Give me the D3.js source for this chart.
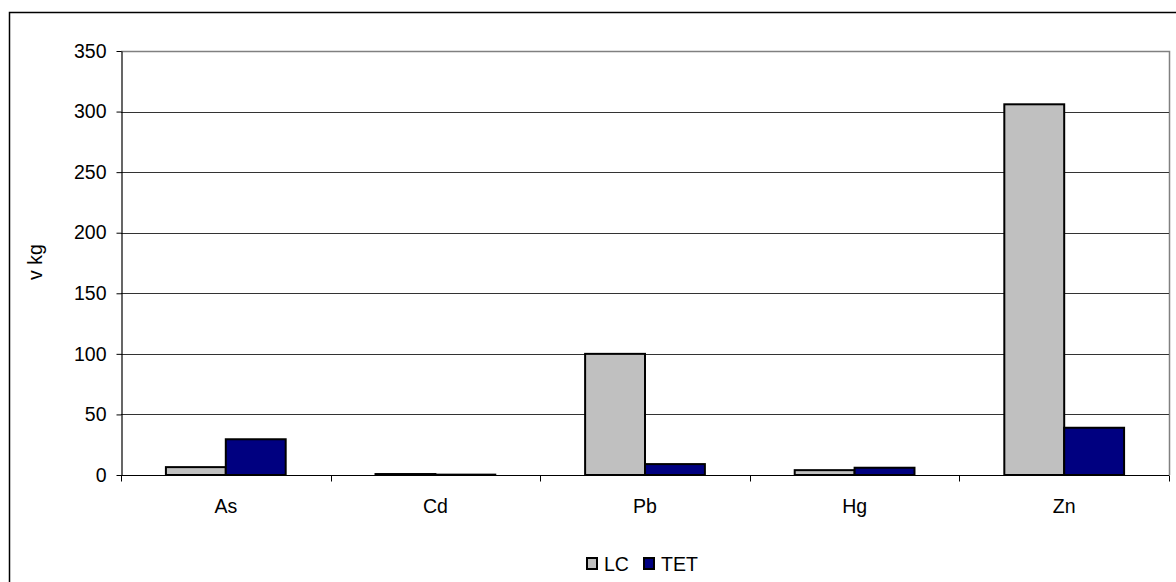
<!DOCTYPE html>
<html>
<head>
<meta charset="utf-8">
<script src="https://cdn.jsdelivr.net/npm/d3@7"></script>
<style>
  html, body { margin: 0; padding: 0; background: #fff; }
  svg { display: block; font-family: "Liberation Sans", Arial, sans-serif; }
</style>
</head>
<body>
<svg id="chart" width="1176" height="582"></svg>
<script>
// Heavy metal quantities, kg
const categories = ["As", "Cd", "Pb", "Hg", "Zn"];
const seriesNames = ["LC", "TET"];
const lcValues = [6.5, 0.8, 100, 4, 306];
const tetValues = [29.5, 0.3, 9, 6, 39];
const yTicks = [0, 50, 100, 150, 200, 250, 300, 350];
const yTitle = "v kg";

const colors = { LC: "#c0c0c0", TET: "#000080" };
const fontSize = 19.5;

const svg = d3.select("#chart");
const plot = { left: 121, top: 51, right: 1169, bottom: 475 };

// Outer chart frame
svg.append("rect")
  .attr("x", 9.5).attr("y", 12.5)
  .attr("width", 1200).attr("height", 600)
  .attr("fill", "#fff").attr("stroke", "#000").attr("stroke-width", 1.5);

const x = d3.scaleBand().domain(categories).range([plot.left, plot.right]).padding(0);
const x1 = d3.scaleBand().domain(seriesNames)
  .range([0, x.bandwidth()]).paddingOuter(0.75).paddingInner(0);
const y = d3.scaleLinear().domain([0, 350]).range([plot.bottom, plot.top]);

// Plot area border (top and right)
svg.append("path")
  .attr("d", `M${plot.left},${plot.top + 0.5}H${plot.right + 0.5}V${plot.bottom}`)
  .attr("fill", "none").attr("stroke", "#808080").attr("stroke-width", 1.5);

// Horizontal gridlines
svg.append("g")
  .selectAll("line")
  .data(yTicks.filter(t => t > 0 && t < 350))
  .join("line")
  .attr("x1", plot.left).attr("x2", plot.right)
  .attr("y1", d => Math.round(y(d)) + 0.5).attr("y2", d => Math.round(y(d)) + 0.5)
  .attr("stroke", "#333").attr("stroke-width", 1);

// Bars
const rows = categories.map((c, i) => ({ cat: c, LC: lcValues[i], TET: tetValues[i] }));
const groups = svg.append("g")
  .selectAll("g")
  .data(rows)
  .join("g")
  .attr("transform", d => `translate(${x(d.cat)},0)`);

groups.selectAll("rect")
  .data(d => seriesNames.map(s => ({ s, v: d[s] })))
  .join("rect")
  .attr("x", d => x1(d.s))
  .attr("y", d => y(d.v))
  .attr("width", x1.bandwidth())
  .attr("height", d => y(0) - y(d.v))
  .attr("fill", d => colors[d.s])
  .attr("stroke", "#000").attr("stroke-width", 2);

// Y axis
const yAxis = d3.axisLeft(y).tickValues(yTicks).tickSize(5).tickPadding(10).tickSizeOuter(0);
const gy = svg.append("g").attr("transform", `translate(${plot.left + 0.5},0)`).call(yAxis);
gy.select(".domain").attr("stroke", "#000").attr("stroke-width", 1.2);
gy.selectAll(".tick line").attr("stroke", "#000");
gy.selectAll(".tick text")
  .attr("font-size", fontSize).attr("fill", "#000")
  .attr("font-family", "'Liberation Sans', Arial, sans-serif");

// X axis with category boundary ticks
const gx = svg.append("g").attr("transform", `translate(0,${plot.bottom + 0.5})`);
gx.append("line")
  .attr("x1", plot.left).attr("x2", plot.right)
  .attr("stroke", "#000").attr("stroke-width", 1.2);
const boundaries = categories.map(c => x(c)).concat([x(categories[categories.length - 1]) + x.bandwidth()]);
gx.selectAll("line.tk")
  .data(boundaries)
  .join("line").attr("class", "tk")
  .attr("x1", d => Math.round(d) + 0.5).attr("x2", d => Math.round(d) + 0.5)
  .attr("y1", 0).attr("y2", 6)
  .attr("stroke", "#000");
gx.selectAll("text")
  .data(categories)
  .join("text")
  .attr("x", d => x(d) + x.bandwidth() / 2)
  .attr("y", 37)
  .attr("text-anchor", "middle")
  .attr("font-size", fontSize).attr("fill", "#000")
  .text(d => d);

// Y axis title
svg.append("text")
  .attr("transform", "translate(42,262) rotate(-90)")
  .attr("text-anchor", "middle")
  .attr("font-size", fontSize).attr("fill", "#000")
  .text(yTitle);

// Legend
const legendItems = [
  { name: "LC", x: 587 },
  { name: "TET", x: 644 }
];
const lg = svg.append("g");
lg.selectAll("rect")
  .data(legendItems)
  .join("rect")
  .attr("x", d => d.x).attr("y", 558)
  .attr("width", 10).attr("height", 11)
  .attr("fill", d => colors[d.name])
  .attr("stroke", "#000").attr("stroke-width", 2);
lg.selectAll("text")
  .data(legendItems)
  .join("text")
  .attr("x", d => d.x + 17).attr("y", 571)
  .attr("font-size", fontSize).attr("fill", "#000")
  .text(d => d.name);
</script>
</body>
</html>
